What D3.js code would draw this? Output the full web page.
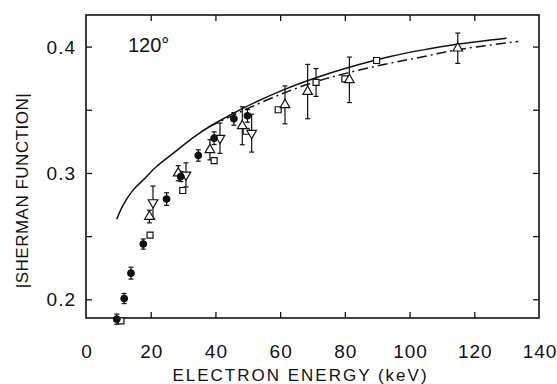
<!DOCTYPE html>
<html>
<head>
<meta charset="utf-8">
<script src="https://cdn.jsdelivr.net/npm/d3@7"></script>
<style>
  body { margin: 0; background: #fff; }
  svg text { font-family: "Liberation Sans", "DejaVu Sans", sans-serif; fill: #111; }
</style>
</head>
<body>
<div class="chart"></div>
<script>
// theory curves (energy keV, |S|)
const solidX = [9.5, 11.5, 14.6, 17.7, 21.8, 27.0, 32.1, 35.2, 40.9, 48.6, 61, 71.3, 80.6, 94, 104.2, 114.5, 130];
const solidY = [0.2634, 0.2748, 0.2866, 0.2945, 0.3051, 0.3157, 0.326, 0.3318, 0.3407, 0.3513, 0.3657, 0.3755, 0.383, 0.3921, 0.3974, 0.4018, 0.4066];
const dashX = [38, 48.6, 61, 71.3, 80.6, 94, 104.2, 114.5, 133.6];
const dashY = [0.3365, 0.3494, 0.3631, 0.3725, 0.379, 0.3869, 0.392, 0.3974, 0.404];

// measured points: energy, value, error
const circleX = [9.5, 11.8, 13.9, 17.7, 24.9, 29.3, 34.7, 39.6, 45.7, 49.9];
const circleY = [0.1843, 0.2006, 0.2207, 0.2437, 0.2793, 0.2972, 0.3138, 0.3275, 0.3428, 0.3452];
const circleE = [0.004, 0.004, 0.0047, 0.004, 0.005, 0.004, 0.0045, 0.005, 0.005, 0.005];

const squareX = [10.8, 19.8, 29.9, 39.6, 49.5, 59.4, 71.1, 80, 89.8];
const squareY = [0.183, 0.2508, 0.2861, 0.3098, 0.333, 0.35, 0.3716, 0.3744, 0.389];
const squareE = [0, 0, 0, 0, 0, 0, 0.011, 0, 0];

const triUpX = [19.6, 28.5, 38.3, 48.3, 61.5, 68.5, 81.4, 114.9];
const triUpY = [0.2655, 0.2998, 0.3183, 0.3373, 0.3539, 0.3644, 0.3737, 0.3987];
const triUpE = [0.005, 0.006, 0.008, 0.015, 0.015, 0.0215, 0.018, 0.012];

const triDnX = [20.7, 30.9, 41.4, 51.2];
const triDnY = [0.2766, 0.2985, 0.3275, 0.3315];
const triDnE = [0.013, 0.0095, 0.012, 0.015];

const xTicks = [0, 20, 40, 60, 80, 100, 120, 140];
const yTicks = [0.2, 0.3, 0.4];
const yMinor = [0.25, 0.35];

const width = 557, height = 384;
const margin = {top: 15, right: 18, bottom: 66, left: 86};

const svg = d3.select('.chart').append('svg')
    .attr('width', width).attr('height', height);

const xScale = d3.scaleLinear().domain([0, 140]).range([margin.left, width - margin.right]);
const yScale = d3.scaleLinear().domain([0.1852, 0.425]).range([height - margin.bottom, margin.top]);

const x0 = margin.left, x1 = width - margin.right, y0 = height - margin.bottom, y1 = margin.top;

// inward ticks on all sides
const xAxisB = d3.axisBottom(xScale).tickValues(xTicks.slice(1, -1)).tickSize(-6).tickFormat('');
const xAxisT = d3.axisTop(xScale).tickValues(xTicks.slice(1, -1)).tickSize(-6).tickFormat('');
const yAxisL = d3.axisLeft(yScale).tickValues(yTicks.concat(yMinor)).tickSize(-6).tickFormat('');
const yAxisR = d3.axisRight(yScale).tickValues(yTicks.concat(yMinor)).tickSize(-6).tickFormat('');

svg.append('g').attr('transform', `translate(0,${y0})`).call(xAxisB);
svg.append('g').attr('transform', `translate(0,${y1})`).call(xAxisT);
svg.append('g').attr('transform', `translate(${x0},0)`).call(yAxisL);
svg.append('g').attr('transform', `translate(${x1},0)`).call(yAxisR);
svg.selectAll('.domain').remove();
svg.selectAll('.tick line').attr('stroke', '#111').attr('stroke-width', 1.3);

svg.append('rect')
    .attr('x', x0).attr('y', y1).attr('width', x1 - x0).attr('height', y0 - y1)
    .attr('fill', 'none').attr('stroke', '#111').attr('stroke-width', 1.6);

// tick labels
svg.selectAll('.xlab').data(xTicks).enter().append('text')
    .attr('x', d => xScale(d) + 1).attr('y', 358)
    .attr('text-anchor', 'middle').attr('font-size', 19)
    .attr('letter-spacing', 1)
    .text(d => d);

svg.selectAll('.ylab').data(yTicks).enter().append('text')
    .attr('x', 76).attr('y', d => yScale(d) + 7)
    .attr('text-anchor', 'end').attr('font-size', 19)
    .attr('letter-spacing', 1)
    .text(d => d.toFixed(1));

svg.append('text')
    .attr('x', (x0 + x1) / 2 - 12).attr('y', 381)
    .attr('text-anchor', 'middle').attr('font-size', 17)
    .attr('letter-spacing', 2)
    .text('ELECTRON ENERGY (keV)');

svg.append('text')
    .attr('transform', `translate(28,${(y0 + y1) / 2 + 24}) rotate(-90)`)
    .attr('text-anchor', 'middle').attr('font-size', 17)
    .attr('letter-spacing', 0.5)
    .text('|SHERMAN FUNCTION|');

svg.append('text')
    .attr('x', 128).attr('y', 52).attr('font-size', 20)
    .text('120°');

// curves
const line = d3.line().x(d => xScale(d[0])).y(d => yScale(d[1])).curve(d3.curveCatmullRom);

svg.append('path')
    .datum(solidX.map((d, i) => [d, solidY[i]]))
    .attr('d', line).attr('fill', 'none').attr('stroke', '#111').attr('stroke-width', 1.5);

svg.append('path')
    .datum(dashX.map((d, i) => [d, dashY[i]]))
    .attr('d', line).attr('fill', 'none').attr('stroke', '#111').attr('stroke-width', 1.5)
    .attr('stroke-dasharray', '10,4,2,4');

// error bars
function errorBars(xs, ys, es) {
    const pts = xs.map((d, i) => ({x: d, y: ys[i], e: es[i]})).filter(d => d.e > 0);
    const g = svg.append('g').attr('stroke', '#111').attr('stroke-width', 1.2);
    g.selectAll('.eb').data(pts).enter().append('line')
        .attr('x1', d => xScale(d.x)).attr('x2', d => xScale(d.x))
        .attr('y1', d => yScale(d.y - d.e)).attr('y2', d => yScale(d.y + d.e));
    g.selectAll('.ct').data(pts).enter().append('line')
        .attr('x1', d => xScale(d.x) - 2.5).attr('x2', d => xScale(d.x) + 2.5)
        .attr('y1', d => yScale(d.y + d.e)).attr('y2', d => yScale(d.y + d.e));
    g.selectAll('.cb').data(pts).enter().append('line')
        .attr('x1', d => xScale(d.x) - 2.5).attr('x2', d => xScale(d.x) + 2.5)
        .attr('y1', d => yScale(d.y - d.e)).attr('y2', d => yScale(d.y - d.e));
}
errorBars(circleX, circleY, circleE);
errorBars(squareX, squareY, squareE);
errorBars(triUpX, triUpY, triUpE);
errorBars(triDnX, triDnY, triDnE);

function symbols(xs, ys, type, size, filled, rot) {
    svg.append('g').selectAll('path')
        .data(xs.map((d, i) => [d, ys[i]]))
        .enter().append('path')
        .attr('d', d3.symbol().type(type).size(size))
        .attr('transform', d => `translate(${xScale(d[0])},${yScale(d[1])}) rotate(${rot})`)
        .attr('fill', filled ? '#111' : '#fff')
        .attr('stroke', '#111').attr('stroke-width', 1.2);
}
symbols(squareX, squareY, d3.symbolSquare, 36, false, 0);
symbols(triUpX, triUpY, d3.symbolTriangle, 40, false, 0);
symbols(triDnX, triDnY, d3.symbolTriangle, 40, false, 180);
symbols(circleX, circleY, d3.symbolCircle, 34, true, 0);
</script>
</body>
</html>
